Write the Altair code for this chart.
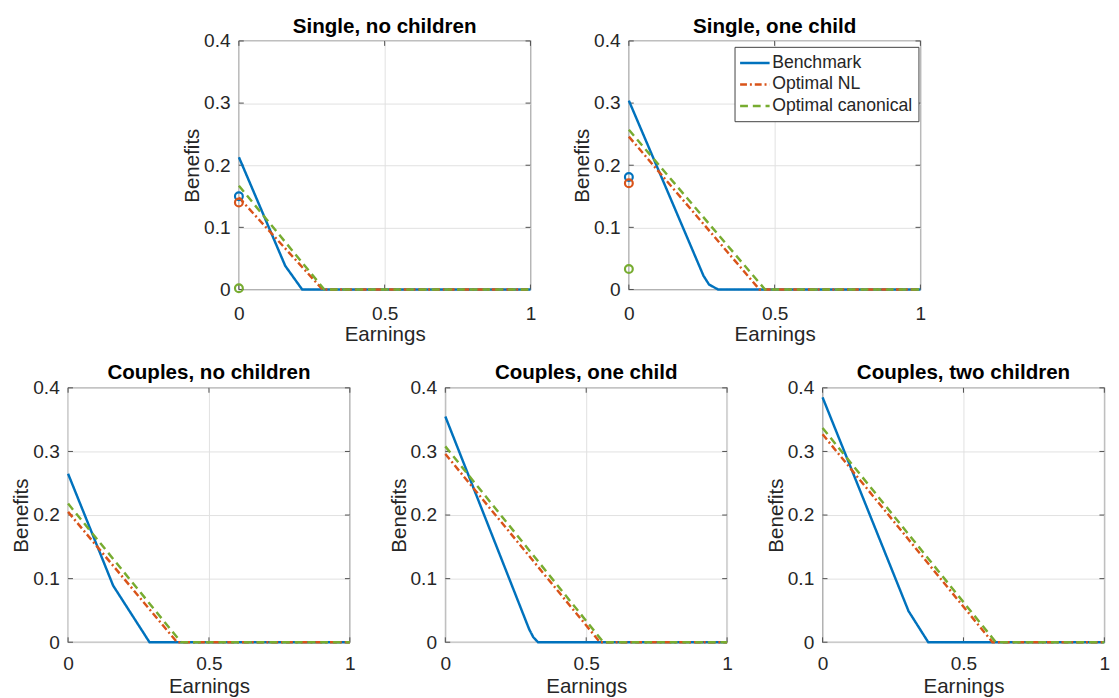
import altair as alt
import pandas as pd

FONT = "Liberation Sans"

series = ["Benchmark", "Optimal NL", "Optimal canonical"]
colors = ["#0072BD", "#D95319", "#77AC30"]
dashes = [[1, 0], [7, 3, 2, 3], [8, 5]]

titles = ["Single, no children", "Single, one child",
          "Couples, no children", "Couples, one child", "Couples, two children"]

bench_x = [[0, 0.159, 0.217, 1], [0, 0.256, 0.275, 0.306, 1], [0, 0.160, 0.289, 1],
           [0, 0.297, 0.312, 0.329, 1], [0, 0.305, 0.375, 1]]
bench_y = [[0.213, 0.038, 0, 0], [0.304, 0.022, 0.008, 0, 0], [0.265, 0.089, 0, 0],
           [0.355, 0.021, 0.008, 0, 0], [0.385, 0.049, 0, 0]]
nl_x = [[0, 0.287, 1], [0, 0.448, 1], [0, 0.387, 1], [0, 0.549, 1], [0, 0.603, 1]]
nl_y = [[0.148, 0, 0], [0.246, 0, 0], [0.205, 0, 0], [0.296, 0, 0], [0.327, 0, 0]]
can_x = [[0, 0.293, 1], [0, 0.467, 1], [0, 0.401, 1], [0, 0.561, 1], [0, 0.615, 1]]
can_y = [[0.167, 0, 0], [0.257, 0, 0], [0.218, 0, 0], [0.308, 0, 0], [0.337, 0, 0]]

# open circles at zero earnings (single households)
marker_panel = [0, 0, 0, 1, 1, 1]
marker_series = ["Benchmark", "Optimal NL", "Optimal canonical"] * 2
marker_x = [0, 0, 0, 0, 0, 0]
marker_y = [0.150, 0.140, 0.002, 0.181, 0.171, 0.033]

x_ticks = [0, 0.5, 1]
y_ticks = [0, 0.1, 0.2, 0.3, 0.4]

TICK = "#4d4d4d"


def panel(i, w, h, title_offset, show_legend, lab_pad, title_pad):
    rows = []
    for s, xs, ys in zip(series, [bench_x[i], nl_x[i], can_x[i]], [bench_y[i], nl_y[i], can_y[i]]):
        for k, (x, y) in enumerate(zip(xs, ys)):
            rows.append({"series": s, "earn": x, "ben": y, "k": k})
    df = pd.DataFrame(rows)

    xsc = alt.Scale(domain=[0, 1], nice=False, zero=False)
    ysc = alt.Scale(domain=[0, 0.4], nice=False)
    xax = alt.Axis(values=x_ticks, format="~g", title="Earnings", labelPadding=lab_pad,
                   titlePadding=title_pad, titleBaseline="alphabetic")
    yax = alt.Axis(values=y_ticks, format="~g", title="Benefits", labelPadding=9,
                   titlePadding=5, titleBaseline="alphabetic")

    def X():
        return alt.X("earn:Q", scale=xsc, axis=xax)

    def Y():
        return alt.Y("ben:Q", scale=ysc, axis=yax)

    xt = pd.DataFrame({"earn": x_ticks})
    yt = pd.DataFrame({"ben": y_ticks})
    tb = alt.Chart(xt).mark_rule(color=TICK, strokeWidth=1).encode(
        x=X(), y=alt.value(h), y2=alt.value(h - 5))
    tt = alt.Chart(xt).mark_rule(color=TICK, strokeWidth=1).encode(
        x=X(), y=alt.value(0), y2=alt.value(5))
    tl = alt.Chart(yt).mark_rule(color=TICK, strokeWidth=1).encode(
        y=Y(), x=alt.value(0), x2=alt.value(5))
    tr = alt.Chart(yt).mark_rule(color=TICK, strokeWidth=1).encode(
        y=Y(), x=alt.value(w), x2=alt.value(w - 5))

    if show_legend:
        leg = alt.Legend(orient="none", legendX=108, legendY=6,
                         symbolType="M-1.2,0L2.15,0", symbolSize=324, symbolStrokeWidth=2.5,
                         labelFont=FONT, labelFontSize=18, labelColor="#262626",
                         labelOffset=11.5, rowPadding=2, padding=6,
                         strokeColor="#404040", fillColor="white", cornerRadius=0)
    else:
        leg = None

    lines = alt.Chart(df).mark_line(strokeWidth=2.5).encode(
        x=X(), y=Y(),
        color=alt.Color("series:N", title=None,
                        scale=alt.Scale(domain=series, range=colors), legend=leg),
        strokeDash=alt.StrokeDash("series:N", title=None,
                                  scale=alt.Scale(domain=series, range=dashes), legend=leg),
        order=alt.Order("k:Q"),
    )
    layers = [tb, tt, tl, tr, lines]

    mrows = [{"series": s, "earn": x, "ben": y}
             for p, s, x, y in zip(marker_panel, marker_series, marker_x, marker_y) if p == i]
    if mrows:
        mdf = pd.DataFrame(mrows)
        circ = alt.Chart(mdf).mark_point(shape="circle", filled=False, size=64,
                                         strokeWidth=2.2, opacity=1).encode(
            x=X(), y=Y(),
            stroke=alt.Stroke("series:N", scale=alt.Scale(domain=series, range=colors),
                              legend=None))
        layers.append(circ)

    return alt.layer(*layers).properties(
        width=w, height=h,
        title=alt.Title(titles[i], font=FONT, fontSize=21, fontWeight="bold",
                        color="#000000", offset=title_offset),
    )


spacer = alt.Chart(pd.DataFrame({"a": [0]})).mark_point(opacity=0).encode(
    x=alt.value(0), y=alt.value(0)
).properties(width=79.4, height=1, view=alt.ViewBackground(stroke="transparent"))

res = dict(color="independent", strokeDash="independent", stroke="independent")

top = alt.hconcat(spacer,
                  panel(0, 298, 254, -6.25, False, 15.3, 18),
                  panel(1, 298, 254, -6.25, True, 15.3, 18),
                  spacing=34.6).resolve_scale(**res).resolve_legend(**res)
bottom = alt.hconcat(panel(2, 288, 260, -4.85, False, 12.9, 20),
                     panel(3, 288, 260, -4.85, False, 12.9, 20),
                     panel(4, 288, 260, -4.85, False, 12.9, 20),
                     spacing=31.6).resolve_scale(**res).resolve_legend(**res)

chart = alt.vconcat(top, bottom, spacing=16.55).resolve_scale(**res).resolve_legend(**res).properties(
    padding={"left": 2.4, "top": 0, "right": 0, "bottom": 0}
).configure_view(
    stroke="#808080", strokeWidth=1.3
).configure_axis(
    labelFont=FONT, titleFont=FONT, labelFontSize=19.5, titleFontSize=21,
    labelColor="#262626", titleColor="#262626", titleFontWeight="normal",
    grid=True, gridColor="#e0e0e0", gridWidth=1, ticks=False, domain=False,
    labelFlush=False,
)

chart.save("out.html", embed_options={"renderer": "svg", "actions": False})
